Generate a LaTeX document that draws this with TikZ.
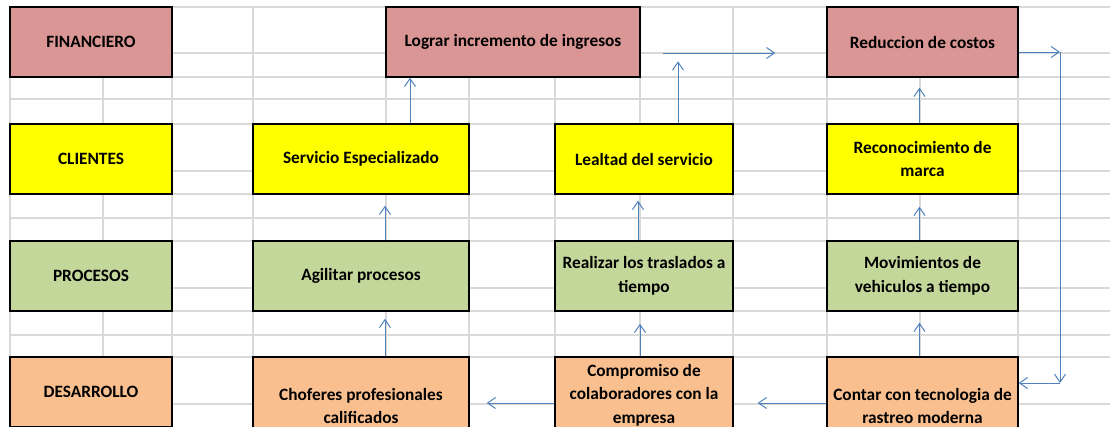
\documentclass[tikz,border=0pt]{standalone}
\usepackage{fontspec}
\setmainfont{Carlito}
\usepackage{tikz}
\usetikzlibrary{arrows.meta}
\definecolor{finred}{HTML}{DA9694}
\definecolor{cliyellow}{HTML}{FFFF00}
\definecolor{progreen}{HTML}{C4D79B}
\definecolor{desorange}{HTML}{FABF8F}
\definecolor{arrowblue}{HTML}{4F81BD}
\definecolor{gridgray}{HTML}{D9D9D9}

\begin{document}
\begin{tikzpicture}[
    x=1pt, y=-1pt,
    block/.style={rectangle, draw, line width=1.4pt, inner sep=0pt, align=center, font=\bfseries\fontsize{17.3}{23.5}\selectfont},
    arrow/.style={draw=arrowblue, line width=1pt, -{Straight Barb[length=8pt,width=11pt]}},
    grid/.style={draw=gridgray, line width=1.3pt}
]
    \useasboundingbox (0,0) rectangle (1110,426);
    \clip (0,0) rectangle (1110,426);

    \foreach \y in {7,53,77,99,124,171,194,218,241,288,311,335,357,404}
        \draw [grid] (10,\y) -- (1110,\y);
    \foreach \x in {10,103,172,253,386,469,555,640,733,827,920,1018}
        \draw [grid] (\x,7) -- (\x,426);

    \node [block, fill=finred, minimum width=162pt, minimum height=70pt] (fin) at (91,42) {FINANCIERO};
    \node [block, fill=cliyellow, minimum width=162pt, minimum height=70pt] (cli) at (91,159) {CLIENTES};
    \node [block, fill=progreen, minimum width=162pt, minimum height=70pt] (pro) at (91,276) {PROCESOS};
    \node [block, fill=desorange, minimum width=162pt, minimum height=70pt] (des) at (91,392) {DESARROLLO};

    \node [block, fill=finred, minimum width=254pt, minimum height=70pt] (log) at (513,42) {Lograr incremento de ingresos};
    \node [block, fill=finred, minimum width=191pt, minimum height=70pt] (red) at (922.5,42) {Reduccion de costos};

    \node [block, fill=cliyellow, minimum width=216pt, minimum height=70pt] (ser) at (361,159) {Servicio Especializado};
    \node [block, fill=cliyellow, minimum width=178pt, minimum height=70pt] (lea) at (644,159) {Lealtad del servicio};
    \node [block, fill=cliyellow, minimum width=191pt, minimum height=70pt] (rec) at (922.5,159) {Reconocimiento de\\marca};

    \node [block, fill=progreen, minimum width=216pt, minimum height=70pt] (agi) at (361,276) {Agilitar procesos};
    \node [block, fill=progreen, minimum width=178pt, minimum height=70pt] (rea) at (644,276) {Realizar los traslados a\\tiempo};
    \node [block, fill=progreen, minimum width=191pt, minimum height=70pt] (mov) at (922.5,276) {Movimientos de\\vehiculos a tiempo};

    \node [block, fill=desorange, minimum width=216pt, minimum height=98pt] (cho) at (361,406) {Choferes profesionales\\calificados};
    \node [block, fill=desorange, minimum width=178pt, minimum height=76pt] (com) at (644,395) {Compromiso de\\colaboradores con la\\empresa};
    \node [block, fill=desorange, minimum width=191pt, minimum height=98pt] (con) at (922.5,406) {Contar con tecnologia de\\rastreo moderna};

    \coordinate (rt) at (1060,52);
    \coordinate (rb) at (1060,383);

    \draw [arrow] ([xshift=49pt]ser.north) -- ([xshift=-103pt]log.south);
    \draw [arrow] ([xshift=34pt]lea.north) -- ++(0,-62);
    \draw [arrow] ([xshift=22pt,yshift=-11pt]log.east) -- ([xshift=-51pt,yshift=-11pt]red.west);
    \draw [arrow] ([xshift=-3pt]rec.north) -- ([xshift=-3pt,yshift=-10pt]red.south);
    \draw [arrow] ([yshift=-10pt]red.east) -- (rt);
    \draw [arrow] (rt) -- (rb);
    \draw [arrow] (rb) -- (rb -| con.east);
    \draw [arrow] ([yshift=3pt]con.west) -- ([xshift=24pt,yshift=-8pt]com.east);
    \draw [arrow] ([yshift=-8pt]com.west) -- ([xshift=17pt,yshift=3pt]cho.east);
    \draw [arrow] ([xshift=-3pt]con.north) -- ([xshift=-3pt,yshift=-11pt]mov.south);
    \draw [arrow] ([xshift=-4pt]com.north) -- ([xshift=-4pt,yshift=-12pt]rea.south);
    \draw [arrow] ([xshift=24pt]cho.north) -- ([xshift=24pt,yshift=-7pt]agi.south);
    \draw [arrow] ([xshift=24pt]agi.north) -- ([xshift=24pt,yshift=-11pt]ser.south);
    \draw [arrow] ([xshift=-6pt]rea.north) -- ([xshift=-6pt,yshift=-6pt]lea.south);
    \draw [arrow] ([xshift=-3pt]mov.north) -- ([xshift=-3pt,yshift=-12pt]rec.south);
\end{tikzpicture}
\end{document}
